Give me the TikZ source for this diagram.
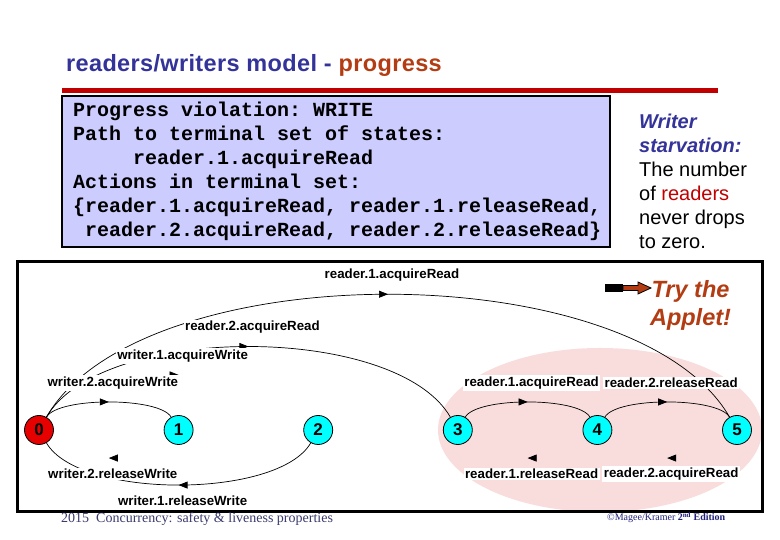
\documentclass[tikz,border=0pt]{standalone}
\usepackage{fontspec}
\setmainfont{Liberation Serif}
\setsansfont{Liberation Sans}
\setmonofont{Liberation Mono}
\newfontfamily\titlefont[LetterSpace=1.5]{Liberation Sans}
\usetikzlibrary{arrows.meta,decorations.markings}
\definecolor{slideblue}{HTML}{333399}
\definecolor{slidebrown}{HTML}{B33C12}
\definecolor{ruledred}{HTML}{C00000}
\definecolor{boxlilac}{HTML}{CCCCFF}
\definecolor{setpink}{HTML}{F9DCDC}
\definecolor{statecyan}{HTML}{00FFFF}
\definecolor{statered}{HTML}{E60000}
\definecolor{footblue}{HTML}{3A3A6E}
\definecolor{footnavy}{HTML}{1F1F7A}
\begin{document}
\begin{tikzpicture}[x=1pt,y=1pt,
    state/.style={circle, draw, line width=0.8pt, minimum size=29pt, inner sep=0pt,
      fill=statecyan, font=\sffamily\bfseries\fontsize{17}{17}\selectfont},
    act/.style={fill=white, inner sep=1.5pt, midway, xshift=4pt,
      font=\sffamily\bfseries\fontsize{13.3}{14}\selectfont},
    trans/.style={line width=0.7pt, postaction={decorate},
      decoration={markings, mark=at position 0.5 with {\arrow{Triangle[length=9pt,width=7pt]}}}},
    arcabove/.style={out=60, in=120, looseness=#1},
    arcbelow/.style={out=240, in=300, looseness=#1}]
  \useasboundingbox (0,0) rectangle (780,540);
  \fill[white] (0,0) rectangle (780,540);
  % heading
  \node[anchor=base west, inner sep=0pt, font=\titlefont\bfseries\fontsize{23.5}{23.5}\selectfont]
    (title) at (66,468) {\textcolor{slideblue}{readers/writers model -} \textcolor{slidebrown}{progress}};
  \draw[ruledred, line width=5pt] (62,449.5) -- (718,449.5);
  % safety check output
  \draw[fill=boxlilac, line width=1.6pt] (62,444) rectangle (610,293);
  \node[anchor=base west, inner sep=0pt, align=left,
    font=\ttfamily\bfseries\fontsize{20}{24}\selectfont] (output) at (73,303)
    {Progress violation: WRITE\\
     Path to terminal set of states:\\
     \hspace*{3em}reader.1.acquireRead\\
     Actions in terminal set:\\
     \{reader.1.acquireRead, reader.1.releaseRead,\\
     \hspace*{0.6em}reader.2.acquireRead, reader.2.releaseRead\}};
  \node[anchor=base west, inner sep=0pt, align=left,
    font=\sffamily\fontsize{20}{24}\selectfont] (note) at (639,291)
    {\textcolor{slideblue}{\bfseries\itshape Writer}\\
     \textcolor{slideblue}{\bfseries\itshape starvation:}\\
     The number\\
     of \textcolor{ruledred}{readers}\\
     never drops\\
     to zero.};
  % LTS picture
  \fill[setpink] (600,110) ellipse [x radius=162, y radius=82];
  \draw[line width=3pt] (17,278) rectangle (762,28);
  \node[state, fill=statered] (n0) at (39,110) {0};
  \foreach \i in {1,...,5}
    \node[state] (n\i) at (39+139.6*\i,110) {\i};
  \draw[trans] (n0) to[arcabove=.71] node[act, yshift=19pt] {reader.1.acquireRead} (n5);
  \draw[trans] (n0) to[arcabove=.69] node[act, yshift=19pt] {reader.2.acquireRead} (n3);
  \path[trans] (n0) to[arcabove=.63] node[act, yshift=19pt] {writer.1.acquireWrite} (n2);
  \draw[trans] (n0) to[arcabove=.48] node[act, yshift=19pt] {writer.2.acquireWrite} (n1);
  \draw[trans] (n3) to[arcabove=.48] node[act, yshift=19pt] {reader.1.acquireRead} (n4);
  \draw[trans] (n4) to[arcabove=.48] node[act, yshift=19pt] {reader.2.releaseRead} (n5);
  \draw[trans] (n2) to[arcbelow=.63] node[act, yshift=-16pt] {writer.1.releaseWrite} (n0);
  \path[trans] (n1) to[arcbelow=.48] node[act, yshift=-16pt] {writer.2.releaseWrite} (n0);
  \path[trans] (n4) to[arcbelow=.48] node[act, yshift=-16pt] {reader.1.releaseRead} (n3);
  \path[trans] (n5) to[arcbelow=.48] node[act, yshift=-16pt] {reader.2.acquireRead} (n4);
  % applet hint
  \fill[black] (605,248) rectangle (623,256);
  \draw[fill=slidebrown, line width=0.8pt] (623,249.5) -- (638,249.5) -- (638,246)
    -- (651,252) -- (638,258) -- (638,254.5) -- (623,254.5) -- cycle;
  \node[anchor=north, inner sep=0pt, align=center, text=slidebrown,
    font=\sffamily\bfseries\itshape\fontsize{23.5}{28}\selectfont] (applet) at (690.5,260)
    {Try the\\Applet!};
  % footers
  \node[anchor=base west, inner sep=0pt, text=footblue, font=\rmfamily\fontsize{14}{14}\selectfont]
    (course) at (61,17) {2015 \ Concurrency: safety \& liveness properties};
  \node[anchor=base west, inner sep=0pt, text=footnavy, font=\rmfamily\fontsize{10}{10}\selectfont]
    (book) at (607,19) {©Magee/Kramer \textbf{2\textsuperscript{nd} Edition}};
\end{tikzpicture}
\end{document}
